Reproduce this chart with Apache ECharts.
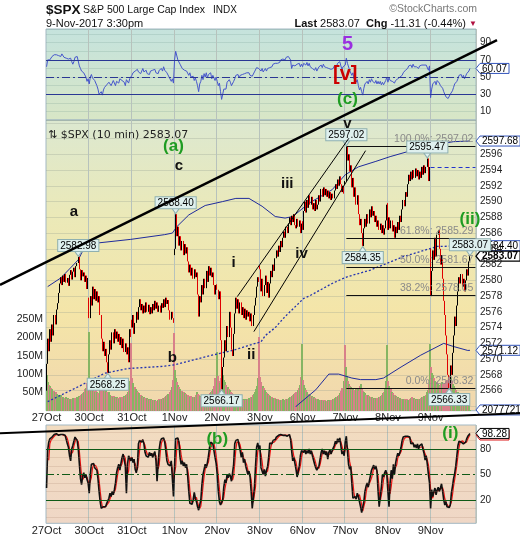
<!DOCTYPE html>
<html>
<head>
<meta charset="utf-8">
<script src="https://cdn.jsdelivr.net/npm/echarts@6/dist/echarts.min.js"></script>
<style>
  html, body { margin: 0; padding: 0; background: #ffffff; }
  #chart { width: 520px; height: 540px; }
</style>
</head>
<body>
<div id="chart"></div>
<script>
// ---- S&P 500, 10-minute bars, 27 Oct - 9 Nov 2017 ----
const dayLabels = ['27Oct', '30Oct', '31Oct', '1Nov', '2Nov', '3Nov', '6Nov', '7Nov', '8Nov', '9Nov'];
const barsPerDay = [39, 39, 39, 39, 39, 39, 39, 39, 39, 37];
const dayOpens = [2566.0, 2577.8, 2575.0, 2583.2, 2579.5, 2581.9, 2587.5, 2592.1, 2589.8, 2584.0];
const sessionDate = '9-Nov-2017 3:30pm';
const prevClose = 2594.38;

// closing price of every 10-minute bar, one row per session
const closes = [
  2569.4, 2572.6, 2571.0, 2573.8, 2572.2, 2574.4, 2573.0, 2575.6, 2574.4, 2576.3, 2577.1, 2578.4, 2579.6, 2580.4, 2579.4, 2580.6, 2579.8, 2580.8, 2579.7, 2580.3, 2579.3, 2580.7, 2581.3, 2580.1, 2581.1, 2581.6, 2580.4, 2581.8, 2582.2, 2582.98, 2581.4, 2580.0, 2581.3, 2580.5, 2581.0, 2579.8, 2580.6, 2578.9, 2580.3,
  2575.2, 2578.0, 2576.8, 2579.2, 2577.6, 2578.9, 2577.4, 2578.6, 2577.2, 2578.0, 2575.6, 2572.6, 2571.0, 2572.2, 2570.4, 2571.3, 2569.6, 2568.25, 2570.6, 2572.4, 2571.2, 2573.4, 2572.0, 2573.8, 2572.6, 2573.5, 2572.2, 2573.2, 2571.8, 2572.8, 2571.4, 2572.6, 2570.9, 2572.0, 2570.6, 2571.5, 2569.6, 2573.8, 2572.8,
  2574.0, 2575.6, 2573.2, 2574.6, 2576.0, 2575.0, 2576.6, 2577.6, 2576.2, 2577.0, 2575.8, 2576.8, 2575.9, 2577.2, 2576.0, 2576.9, 2575.7, 2576.6, 2575.8, 2577.0, 2576.2, 2577.4, 2576.4, 2577.2, 2576.0, 2576.8, 2575.9, 2577.1, 2576.5, 2577.6, 2576.6, 2577.8, 2577.0, 2577.5, 2576.2, 2575.0, 2576.0, 2575.2, 2574.6,
  2584.0, 2588.40, 2585.6, 2586.8, 2584.4, 2585.6, 2583.8, 2585.0, 2583.2, 2584.6, 2583.4, 2584.2, 2582.4, 2581.0, 2582.0, 2580.6, 2581.6, 2580.2, 2581.4, 2580.4, 2581.0, 2578.2, 2575.4, 2578.0, 2577.2, 2579.4, 2578.2, 2580.2, 2579.0, 2581.2, 2579.8, 2581.8, 2580.6, 2581.6, 2580.4, 2581.0, 2579.4, 2578.2, 2579.4,
  2578.8, 2577.6, 2578.6, 2572.4, 2566.17, 2569.0, 2570.2, 2572.4, 2571.0, 2574.2, 2572.8, 2576.0, 2574.0, 2571.2, 2570.4, 2573.2, 2575.8, 2577.8, 2576.4, 2577.6, 2575.8, 2577.2, 2575.6, 2576.6, 2575.2, 2576.4, 2575.0, 2576.2, 2575.4, 2576.0, 2574.8, 2575.8, 2574.2, 2575.6, 2576.8, 2577.8, 2579.2, 2580.4, 2579.8,
  2581.4, 2578.6, 2580.2, 2578.0, 2579.4, 2580.6, 2578.4, 2579.8, 2577.8, 2579.6, 2581.2, 2580.4, 2582.0, 2581.2, 2582.8, 2583.8, 2583.0, 2584.4, 2583.6, 2585.0, 2584.2, 2585.4, 2586.2, 2585.4, 2586.8, 2586.0, 2587.2, 2588.0, 2587.0, 2588.2, 2587.4, 2588.4, 2587.0, 2586.6, 2587.8, 2586.8, 2587.6, 2586.0, 2587.2,
  2586.4, 2588.8, 2590.0, 2588.6, 2590.2, 2589.2, 2590.8, 2589.6, 2590.6, 2589.0, 2589.8, 2588.8, 2590.2, 2589.0, 2589.6, 2590.8, 2590.0, 2591.6, 2590.6, 2591.8, 2590.8, 2591.6, 2590.6, 2591.4, 2590.4, 2591.2, 2590.2, 2591.0, 2590.4, 2591.4, 2592.2, 2591.6, 2592.8, 2592.0, 2593.2, 2592.2, 2591.2, 2592.0, 2591.0,
  2592.6, 2597.02, 2595.2, 2596.0, 2593.8, 2594.6, 2591.8, 2593.0, 2590.6, 2591.8, 2589.6, 2590.8, 2588.4, 2587.0, 2587.8, 2586.0, 2584.35, 2586.6, 2587.8, 2586.8, 2588.4, 2587.2, 2589.0, 2588.0, 2589.4, 2588.2, 2588.8, 2587.4, 2588.2, 2586.8, 2587.6, 2586.4, 2587.2, 2586.0, 2587.0, 2585.8, 2586.6, 2587.6, 2589.6,
  2586.4, 2588.0, 2586.6, 2587.6, 2586.2, 2587.0, 2585.4, 2586.8, 2586.0, 2587.4, 2586.4, 2588.2, 2587.4, 2589.0, 2590.2, 2589.4, 2591.2, 2590.6, 2592.2, 2593.4, 2592.6, 2593.8, 2592.8, 2594.0, 2593.0, 2594.2, 2593.2, 2594.0, 2592.8, 2593.8, 2593.0, 2594.4, 2593.4, 2594.6, 2593.6, 2594.4, 2595.47, 2592.6, 2594.38,
  2578.0, 2581.2, 2583.8, 2582.6, 2585.4, 2583.0, 2585.8, 2586.4, 2584.0, 2582.0, 2583.2, 2580.2, 2577.4, 2575.6, 2573.0, 2570.6, 2568.0, 2566.33, 2569.2, 2568.0, 2570.8, 2573.0, 2575.4, 2574.2, 2576.8, 2578.6, 2580.4, 2579.6, 2580.8, 2579.2, 2580.2, 2578.6, 2580.0, 2581.4, 2580.6, 2582.4, 2583.07
];

// volume per bar, millions of shares
const volumes = [
  97, 78, 70, 66, 62, 58, 55, 52, 50, 46, 44, 42, 40, 43, 38, 36, 35, 38, 33, 34, 31, 32, 30, 33, 35, 31, 34, 36, 38, 40, 37, 42, 45, 48, 52, 58, 62, 76, 215,
  88, 72, 66, 60, 55, 52, 58, 50, 48, 62, 70, 65, 58, 54, 60, 56, 50, 46, 52, 44, 40, 38, 41, 36, 35, 37, 34, 33, 36, 35, 38, 40, 37, 42, 45, 50, 56, 80, 184,
  90, 76, 64, 58, 54, 50, 47, 44, 42, 40, 38, 36, 35, 34, 32, 33, 30, 31, 29, 30, 28, 29, 27, 30, 31, 29, 32, 33, 35, 34, 37, 39, 42, 46, 50, 56, 64, 85, 211,
  112, 90, 78, 70, 64, 60, 55, 52, 50, 48, 46, 44, 42, 40, 38, 40, 37, 36, 38, 44, 50, 46, 42, 40, 38, 36, 38, 35, 37, 40, 42, 44, 47, 50, 54, 60, 68, 90, 161,
  95, 80, 75, 90, 105, 98, 85, 78, 70, 65, 60, 56, 52, 48, 45, 42, 40, 38, 36, 35, 34, 33, 32, 31, 30, 31, 30, 32, 33, 34, 36, 38, 42, 46, 52, 58, 66, 88, 202,
  92, 78, 68, 62, 56, 52, 48, 45, 42, 40, 38, 36, 35, 34, 33, 32, 31, 30, 30, 29, 30, 31, 30, 32, 31, 33, 34, 36, 38, 40, 42, 45, 48, 52, 56, 62, 70, 92, 182,
  85, 70, 62, 56, 50, 46, 44, 41, 40, 38, 36, 34, 33, 32, 31, 30, 29, 28, 28, 27, 28, 27, 26, 28, 27, 29, 30, 31, 33, 34, 36, 38, 41, 44, 48, 54, 62, 82, 179,
  118, 95, 80, 72, 68, 64, 60, 58, 56, 60, 62, 58, 55, 66, 72, 60, 54, 50, 47, 44, 42, 40, 38, 37, 36, 35, 34, 33, 34, 35, 36, 38, 40, 43, 47, 52, 60, 80, 179,
  80, 66, 58, 52, 48, 44, 42, 40, 38, 36, 35, 34, 33, 32, 31, 33, 30, 31, 29, 30, 32, 35, 37, 34, 32, 31, 30, 31, 32, 33, 35, 36, 38, 41, 44, 50, 56, 72, 182,
  120, 104, 96, 88, 82, 78, 74, 70, 66, 72, 78, 74, 70, 76, 80, 84, 90, 95, 88, 80, 72, 66, 60, 56, 52, 50, 48, 46, 44, 42, 43, 41, 40, 42, 44, 46, 2.077721
];

// RSI(14)
const rsi = [
  62, 70, 72, 70, 72, 74, 73, 76, 74, 76, 77, 75, 76, 74, 77, 75, 73, 74, 72, 70, 71, 69, 72, 68, 65, 68, 73, 71, 74, 72, 63, 60, 57, 58, 55, 56, 50, 45, 48,
  42, 50, 53, 49, 50, 46, 44, 40, 36, 30, 28, 33, 29, 35, 38, 36, 41, 39, 44, 42, 40, 43, 46, 44, 40, 45, 47, 43, 48, 50, 46, 48, 44, 40, 47, 45, 43, 48, 50,
  52, 55, 53, 57, 55, 59, 56, 58, 54, 57, 60, 56, 55, 58, 54, 56, 53, 57, 55, 58, 56, 59, 55, 57, 54, 58, 56, 60, 57, 62, 58, 60, 55, 53, 50, 48, 45, 48, 43,
  70, 80, 78, 70, 72, 65, 63, 60, 62, 58, 60, 57, 56, 52, 55, 50, 48, 51, 46, 49, 45, 40, 33, 42, 45, 52, 47, 54, 50, 55, 49, 53, 51, 55, 48, 52, 49, 46, 50,
  45, 40, 43, 33, 24, 30, 36, 38, 36, 44, 42, 47, 44, 40, 38, 45, 48, 52, 50, 53, 49, 52, 50, 53, 51, 54, 52, 55, 53, 55, 52, 54, 51, 53, 56, 58, 61, 63, 60,
  62, 57, 60, 56, 58, 60, 57, 60, 58, 61, 63, 62, 65, 63, 66, 68, 66, 68, 67, 70, 68, 71, 72, 70, 73, 71, 74, 75, 70, 60, 64, 66, 63, 61, 65, 63, 66, 62, 65,
  62, 66, 68, 64, 67, 63, 66, 62, 64, 60, 62, 58, 61, 57, 59, 62, 60, 64, 61, 65, 62, 64, 61, 63, 60, 62, 59, 61, 60, 63, 65, 62, 66, 64, 68, 63, 59, 62, 60,
  64, 72, 66, 67, 58, 60, 52, 55, 48, 51, 44, 47, 40, 35, 38, 33, 29, 37, 42, 40, 45, 42, 47, 44, 48, 45, 47, 43, 46, 42, 45, 42, 45, 41, 44, 41, 43, 46, 50,
  44, 49, 46, 48, 45, 47, 43, 46, 45, 48, 46, 50, 48, 52, 55, 53, 58, 56, 60, 63, 61, 64, 61, 65, 62, 64, 62, 63, 60, 63, 61, 64, 62, 64, 62, 64, 66, 58, 63,
  26, 36, 42, 40, 45, 41, 46, 47, 43, 40, 42, 37, 33, 30, 27, 26, 25, 24, 30, 28, 34, 38, 42, 40, 45, 48, 52, 50, 53, 49, 52, 48, 51, 54, 52, 57, 60.07
];

// Slow stochastic %K
const stochK = [
  34, 78, 88, 92, 90, 94, 96, 97, 96, 98, 97, 96, 98, 97, 96, 97, 95, 96, 94, 86, 82, 72, 66, 80, 84, 86, 94, 96, 90, 80, 62, 45, 38, 48, 52, 46, 50, 44, 40,
  28, 50, 62, 60, 63, 58, 60, 55, 45, 30, 18, 10, 8, 12, 14, 12, 16, 14, 22, 28, 24, 30, 26, 32, 40, 52, 58, 62, 55, 63, 70, 74, 72, 60, 28, 62, 72, 74, 66,
  70, 64, 68, 56, 52, 58, 86, 90, 92, 88, 91, 86, 76, 72, 74, 70, 76, 72, 75, 70, 74, 77, 66, 42, 62, 80, 89, 92, 90, 93, 88, 78, 66, 62, 64, 60, 66, 45, 24,
  60, 92, 90, 93, 88, 70, 62, 66, 60, 64, 58, 62, 48, 30, 16, 18, 15, 20, 29, 22, 18, 12, 8, 10, 20, 38, 50, 56, 62, 58, 64, 72, 82, 88, 90, 86, 84, 70, 63,
  50, 30, 18, 14, 13, 20, 35, 44, 40, 50, 46, 51, 48, 42, 40, 62, 86, 90, 88, 91, 84, 78, 70, 76, 64, 68, 60, 55, 50, 54, 47, 30, 10, 12, 35, 60, 82, 87, 80,
  84, 58, 54, 50, 56, 48, 55, 59, 70, 87, 89, 86, 90, 88, 91, 94, 93, 96, 95, 97, 95, 96, 97, 96, 97, 95, 96, 97, 92, 78, 66, 70, 68, 56, 47, 48, 60, 72, 78,
  80, 76, 79, 74, 78, 75, 80, 74, 78, 72, 70, 62, 58, 55, 57, 60, 68, 76, 80, 74, 78, 73, 77, 68, 76, 79, 74, 78, 80, 84, 89, 86, 92, 88, 93, 84, 74, 77, 72,
  88, 95, 78, 62, 56, 60, 40, 22, 20, 24, 21, 28, 24, 26, 12, 5, 4, 18, 30, 36, 40, 35, 42, 40, 55, 58, 61, 56, 60, 54, 30, 12, 14, 35, 50, 47, 52, 55, 50,
  30, 12, 40, 55, 45, 62, 50, 63, 70, 75, 72, 76, 82, 90, 94, 93, 95, 94, 95, 93, 94, 86, 84, 87, 82, 85, 81, 86, 80, 84, 82, 86, 80, 75, 67, 72, 62, 50, 40,
  10, 32, 24, 30, 34, 26, 32, 35, 30, 34, 39, 30, 20, 14, 18, 12, 10, 11, 14, 28, 36, 45, 51, 60, 72, 84, 89, 91, 88, 90, 86, 85, 88, 92, 95, 96, 98.28
];

// Bollinger bands, read at [bar, price]
const bbUpper = [[1, 2579.2], [13, 2580.3], [29, 2582.6], [35, 2584.3], [44, 2584.7], [77, 2585.2], [108, 2585.8], [115, 2586.0], [119, 2586.8], [130, 2588.3], [145, 2589.5], [161, 2590.0], [173, 2590.4], [185, 2590.4], [197, 2589.4], [209, 2588.1], [218, 2587.9], [225, 2588.1], [240, 2589.8], [261, 2591.5], [273, 2593.4], [285, 2594.4], [301, 2595.1], [314, 2595.7], [348, 2597.05], [372, 2597.6], [387, 2597.68]];
const bbMiddle = [[1, 2564.6], [29, 2566.5], [53, 2568.2], [74, 2568.8], [108, 2569.1], [118, 2569.3], [145, 2570.3], [170, 2571.1], [191, 2572.0], [196, 2572.2], [200, 2573.0], [209, 2574.0], [218, 2575.4], [235, 2577.7], [240, 2578.0], [261, 2579.6], [272, 2580.3], [276, 2580.5], [296, 2581.3], [326, 2583.0], [357, 2584.3], [387, 2584.40]];
const bbLower = [[226, 2563.3], [228, 2564.0], [246, 2566.1], [258, 2568.1], [267, 2568.1], [279, 2567.6], [287, 2567.4], [301, 2567.4], [308, 2567.6], [324, 2569.0], [342, 2570.5], [363, 2572.0], [372, 2571.6], [385, 2571.1], [387, 2571.12]];

// Fibonacci retracement of the 7 Nov high to the 9 Nov low
const fibLevels = [100, 61.8, 50, 38.2, 0];
const fibPrices = [2597.02, 2585.29, 2581.67, 2578.05, 2566.32];
const fibStartBar = 274;

// bars carrying a price callout
const highCallouts = [29, 118, 274, 348, 387];
const lowCallouts = [56, 160, 289, 368];

// Elliott wave annotations
const waveNotes = [
  { text: 'a', pane: 'price', bar: 25, value: 2588.7, kind: 'minor' },
  { text: '(a)', pane: 'price', bar: 116, value: 2597.0, kind: 'green' },
  { text: 'c', pane: 'price', bar: 121, value: 2594.5, kind: 'minor' },
  { text: 'b', pane: 'price', bar: 115, value: 2570.2, kind: 'minor' },
  { text: 'i', pane: 'price', bar: 171, value: 2582.2, kind: 'minor' },
  { text: 'ii', pane: 'price', bar: 187, value: 2570.5, kind: 'minor' },
  { text: 'iii', pane: 'price', bar: 220, value: 2592.3, kind: 'minor' },
  { text: 'iv', pane: 'price', bar: 233, value: 2583.4, kind: 'minor' },
  { text: 'v', pane: 'price', bar: 275, value: 2599.9, kind: 'minor' },
  { text: '(ii)', pane: 'price', bar: 387, value: 2587.8, kind: 'green' },
  { text: '5', pane: 'rsi', bar: 275, value: 88, kind: 'purple' },
  { text: '[v]', pane: 'rsi', bar: 273, value: 53, kind: 'red' },
  { text: '(c)', pane: 'rsi', bar: 275, value: 23.6, kind: 'green' },
  { text: '(b)', pane: 'stoch', bar: 156, value: 91.4, kind: 'green' },
  { text: '(i)', pane: 'stoch', bar: 369, value: 98.5, kind: 'green' }
];

// drawn trend lines: two anchors each, in [bar, value] of a pane
const trendLines = [
  { pane: 'price', a: [0, 2582.32], b: [387, 2608.79], extend: [0, 497], width: 2.5 },
  { pane: 'stoch', a: [0, 100.6], b: [387, 119.8], extend: [0, 520], width: 2 },
  { pane: 'price', a: [174.3, 2577.93], b: [276.3, 2598.03], width: 1 },
  { pane: 'price', a: [189.5, 2573.49], b: [291.6, 2596.46], width: 1 }
];

// ---- derived tables ----
const categories = [];
const dayStart = new Set();
const openOfBar = [];
dayLabels.forEach((d, k) => {
  dayStart.add(categories.length);
  for (let i = 0; i < barsPerDay[k]; i++) {
    const m = 570 + 10 * i;
    const idx = categories.length;
    openOfBar.push(i === 0 ? dayOpens[k] : closes[idx - 1]);
    categories.push(d + ' ' + Math.floor(m / 60) + ':' + String(m % 60).padStart(2, '0'));
  }
});
const nBars = categories.length;
const lastSlot = nBars + 4;
for (let i = nBars; i <= lastSlot; i++) categories.push('');

const candles = closes.map((c, i) => {
  const o = openOfBar[i];
  return [o, c, Math.min(o, c), Math.max(o, c)];
});
const volumeRows = volumes.map((v, i) => [i, v, candles[i][1] >= candles[i][0] ? 1 : 0]);
const stochD = stochK.map((v, i) => i < 2 ? null : +((stochK[i] + stochK[i - 1] + stochK[i - 2]) / 3).toFixed(2));

const FONT = '"Liberation Sans", Arial, sans-serif';
const paneAxis = { rsi: 0, price: 2, stoch: 3 };
const VOL_UP = '#86b563', VOL_DOWN = '#d8808a';

function xAxisFor(gridIndex, showLabels) {
  return {
    type: 'category', gridIndex, data: categories, boundaryGap: true,
    axisLine: { show: false }, axisTick: { show: false },
    axisLabel: {
      show: showLabels, interval: (i) => dayStart.has(i), hideOverlap: false,
      formatter: (v) => v.split(' ')[0], color: '#222', fontSize: 11, margin: 2, fontFamily: FONT
    },
    splitLine: { show: gridIndex !== 2, interval: (i) => dayStart.has(i) && i > 0, lineStyle: { color: '#b7c2bc', width: 1 } }
  };
}
const lg = (stops) => new echarts.graphic.LinearGradient(0, 0, 0, 1, stops.map((c, i) => ({ offset: i / (stops.length - 1), color: c })));

const chart = echarts.init(document.getElementById('chart'), null, { renderer: 'canvas' });

const option = {
  animation: false,
  textStyle: { fontFamily: FONT },
  grid: [
    { left: 46, right: 44, top: 29, height: 91, show: true, z: 0, backgroundColor: lg(['#c5e3dd', '#d8e6c6']), borderColor: '#a3b8c2', borderWidth: 1, outerBoundsMode: 'none' },
    { left: 46, right: 44, top: 120, height: 290.7, show: true, z: 0, backgroundColor: lg(['#dce8d0', '#ebe9b8', '#f4e5a8', '#f1d7ae']), borderColor: '#a3b8c2', borderWidth: 1, outerBoundsMode: 'none' },
    { left: 46, right: 44, top: 120, height: 286.4, show: false, outerBoundsMode: 'none' },
    { left: 46, right: 44, top: 425, height: 98.3, show: true, z: 0, backgroundColor: lg(['#f2dcc0', '#efd7c6']), borderColor: '#a3b8c2', borderWidth: 1, outerBoundsMode: 'none' }
  ],
  xAxis: [xAxisFor(0, false), xAxisFor(1, true), Object.assign(xAxisFor(2, false), { show: false }), xAxisFor(3, true)],
  yAxis: [
    { type: 'value', gridIndex: 0, position: 'right', min: 0, max: 106, interval: 10,
      axisLine: { show: false }, axisTick: { show: false },
      axisLabel: { formatter: (v) => (v % 20 === 10 ? String(v) : ''), color: '#222', fontSize: 10, margin: 4 },
      splitLine: { lineStyle: { color: 'rgba(110,150,140,0.22)' } } },
    { type: 'value', gridIndex: 1, position: 'left', min: 0, max: 792.5, interval: 50,
      axisLine: { show: false }, axisTick: { show: false },
      axisLabel: { formatter: (v) => (v >= 50 && v <= 250 ? v + 'M' : ''), color: '#222', fontSize: 10.5, margin: 3 },
      splitLine: { show: false } },
    { type: 'value', gridIndex: 2, position: 'right', min: 2564, max: 2600.35, interval: 2,
      axisLine: { show: false }, axisTick: { show: false },
      axisLabel: { formatter: (v) => (v >= 2566 && v <= 2596 ? String(v) : ''), color: '#222', fontSize: 10, margin: 4 },
      splitLine: { lineStyle: { color: 'rgba(140,150,140,0.28)' } } },
    { type: 'value', gridIndex: 3, position: 'right', min: -7.5, max: 108.2,
      axisLine: { show: false }, axisTick: { show: false }, axisLabel: { show: false }, splitLine: { show: false } }
  ],
  series: [
    {
      type: 'line', name: 'RSI(14)', xAxisIndex: 0, yAxisIndex: 0, data: rsi, symbol: 'none', z: 3,
      lineStyle: { color: '#4656cc', width: 1 },
      markLine: {
        silent: true, symbol: ['none', 'none'], label: { show: false },
        lineStyle: { color: '#2a3794', width: 1, type: 'solid' },
        data: [{ yAxis: 70 }, { yAxis: 50, lineStyle: { type: [8, 3, 2, 3] } }, { yAxis: 30 }]
      }
    },
    {
      // volume columns: one pixel-snapped rect per bar, coloured by the bar's direction
      type: 'custom', name: 'Volume', xAxisIndex: 1, yAxisIndex: 1, data: volumeRows, z: 2, silent: true,
      encode: { x: 0, y: 1 },
      renderItem: (params, api) => {
        const top = api.coord([api.value(0), api.value(1)]);
        const base = api.coord([api.value(0), 0]);
        const band = api.size([1, 0])[0];
        const x = Math.round(top[0] - band / 2);
        return {
          type: 'rect',
          shape: { x, y: Math.round(top[1]), width: Math.max(1, Math.round(band)) + 1, height: Math.round(base[1]) - Math.round(top[1]) },
          style: { fill: api.value(2) ? VOL_UP : VOL_DOWN }
        };
      }
    },
    {
      type: 'line', name: 'BB upper', xAxisIndex: 2, yAxisIndex: 2, data: bbUpper, symbol: 'none',
      lineStyle: { color: '#1f2b9c', width: 1 }, z: 3
    },
    {
      type: 'line', name: 'BB middle', xAxisIndex: 2, yAxisIndex: 2, data: bbMiddle, symbol: 'none',
      lineStyle: { color: '#2434b0', width: 1.3, type: [2, 2] }, z: 3
    },
    {
      type: 'line', name: 'BB lower', xAxisIndex: 2, yAxisIndex: 2, data: bbLower, symbol: 'none',
      lineStyle: { color: '#1f2b9c', width: 1 }, z: 3
    },
    {
      type: 'candlestick', name: '$SPX', xAxisIndex: 2, yAxisIndex: 2, data: candles, barWidth: 1, z: 4,
      itemStyle: { color: '#000', color0: '#e00000', borderColor: '#000', borderColor0: '#e00000', borderWidth: 1 },
      markLine: {
        silent: true, symbol: ['none', 'none'],
        data: fibLevels.map((lv, k) => [
          { coord: [fibStartBar, fibPrices[k]], lineStyle: { color: '#111', width: 1, type: 'solid' },
            label: { show: true, position: 'insideEndTop', distance: 2, formatter: lv.toFixed(1) + '%: ' + fibPrices[k].toFixed(2), color: '#8a8a8a', fontSize: 10.5 } },
          { coord: [lastSlot, fibPrices[k]] }
        ]).concat([[
          { coord: [nBars - 37, prevClose], lineStyle: { color: '#2233cc', width: 1, type: [4, 3] }, label: { show: false } },
          { coord: [lastSlot, prevClose] }
        ]])
      },
      markPoint: {
        silent: true,
        itemStyle: { color: '#dff0ee', borderColor: '#8fb0b0', borderWidth: 1 },
        label: { show: true, formatter: '{c}', backgroundColor: '#dff0ee', borderColor: '#8fb0b0', borderWidth: 1,
                 padding: [1, 2, 0, 2], fontSize: 10, lineHeight: 10, color: '#000' },
        data: highCallouts.map((i) => ({
          coord: [i, closes[i]], value: closes[i].toFixed(2), symbol: 'triangle', symbolRotate: 180,
          symbolSize: [7, 5], symbolOffset: [0, -3], label: { position: 'top', distance: 0 }
        })).concat(lowCallouts.map((i) => ({
          coord: [i, closes[i]], value: closes[i].toFixed(2), symbol: 'triangle',
          symbolSize: [7, 5], symbolOffset: [0, 3], label: { position: 'bottom', distance: 0 }
        })))
      }
    },
    {
      type: 'line', name: '%D', xAxisIndex: 3, yAxisIndex: 3, data: stochD, symbol: 'none', z: 3,
      lineStyle: { color: '#ee1111', width: 1.2 }
    },
    {
      type: 'line', name: '%K', xAxisIndex: 3, yAxisIndex: 3, data: stochK, symbol: 'none', z: 4,
      lineStyle: { color: '#111', width: 1.6 },
      markLine: {
        silent: true, symbol: ['none', 'none'],
        data: [0, 10, 30, 40, 60, 70, 90, 100].map((v) => ({ yAxis: v, lineStyle: { color: 'rgba(170,130,110,0.22)', width: 1, type: 'solid' }, label: { show: false } }))
          .concat([80, 50, 20].map((v) => ({
            yAxis: v,
            lineStyle: { color: '#0f5a17', width: 1, type: v === 50 ? [8, 3, 2, 3] : 'solid' },
            label: { show: true, position: 'end', formatter: String(v), color: '#222', fontSize: 10, distance: 4 }
          })))
      }
    }
  ]
};
chart.setOption(option);

// ---- annotations placed through the axes ----
const measureCtx = document.createElement('canvas').getContext('2d');
function textWidth(t, size, bold) {
  measureCtx.font = (bold ? 'bold ' : '') + size + 'px ' + FONT;
  return measureCtx.measureText(t).width;
}
const x0px = chart.convertToPixel({ xAxisIndex: 2 }, categories[0]);
const x1px = chart.convertToPixel({ xAxisIndex: 2 }, categories[nBars - 1]);
const xAt = (bar) => x0px + (x1px - x0px) * bar / (nBars - 1);
const yAt = (pane, v) => chart.convertToPixel({ yAxisIndex: paneAxis[pane] }, v);
const gridRight = chart.getWidth() - 44;

const graphics = [];

// header
graphics.push(
  { type: 'text', x: 46, y: 10, style: { text: '$SPX', fontSize: 13.5, fontWeight: 'bold', fontFamily: FONT, fill: '#111', verticalAlign: 'middle' } },
  { type: 'text', x: 83, y: 10.5, style: { text: 'S&P 500 Large Cap Index', fontSize: 10.5, fontFamily: FONT, fill: '#111', verticalAlign: 'middle' } },
  { type: 'text', x: 213, y: 10.5, style: { text: 'INDX', fontSize: 10, fontFamily: FONT, fill: '#111', verticalAlign: 'middle' } },
  { type: 'text', x: 46, y: 23.5, style: { text: sessionDate, fontSize: 11, fontFamily: FONT, fill: '#111', verticalAlign: 'middle' } },
  { type: 'text', x: 477, y: 9.5, style: { text: '\u00a9StockCharts.com', fontSize: 10.5, fontFamily: FONT, fill: '#777', align: 'right', verticalAlign: 'middle' } }
);
const last = closes[nBars - 1];
const chg = last - prevClose;
graphics.push({
  type: 'text', x: 477, y: 23.5,
  style: {
    text: '{b|Last} ' + last.toFixed(2) + '  {b|Chg} ' + chg.toFixed(2) + ' (' + (chg / prevClose * 100).toFixed(2) + '%) {r|\u25BC}',
    fontSize: 11, fontFamily: FONT, fill: '#111', align: 'right', verticalAlign: 'middle',
    rich: { b: { fontWeight: 'bold', fontSize: 11, fontFamily: FONT }, r: { fill: '#b01040', fontSize: 8 } }
  }
});
graphics.push({
  type: 'text', x: 48, y: 135,
  style: { text: '\u21C5 $SPX (10 min) ' + last.toFixed(2), fontSize: 11, fontFamily: '"DejaVu Sans", sans-serif', fill: '#222', verticalAlign: 'middle' }, z: 50
});

// trend lines
trendLines.forEach((ln) => {
  let p1 = [xAt(ln.a[0]), yAt(ln.pane, ln.a[1])];
  let p2 = [xAt(ln.b[0]), yAt(ln.pane, ln.b[1])];
  if (ln.extend) {
    const s = (p2[1] - p1[1]) / (p2[0] - p1[0]);
    const yOf = (x) => p1[1] + (x - p1[0]) * s;
    p1 = [ln.extend[0], yOf(ln.extend[0])];
    p2 = [ln.extend[1], yOf(ln.extend[1])];
  }
  graphics.push({ type: 'line', shape: { x1: p1[0], y1: p1[1], x2: p2[0], y2: p2[1] }, style: { stroke: '#000', lineWidth: ln.width }, z: 40, silent: true });
});

// wave labels
const waveStyle = {
  minor: { fill: '#111', size: 15 },
  green: { fill: '#1f9c22', size: 17 },
  purple: { fill: '#9a2fe0', size: 20 },
  red: { fill: '#cc0000', size: 20 }
};
waveNotes.forEach((w) => {
  const st = waveStyle[w.kind];
  graphics.push({
    type: 'text', x: xAt(w.bar), y: yAt(w.pane, w.value), z: 45,
    style: { text: w.text, fill: st.fill, fontSize: st.size, fontWeight: 'bold', fontFamily: FONT, align: 'center', verticalAlign: 'middle' }
  });
});

// value tags on the right edge
function tag(y, text, border, bold) {
  const w = textWidth(text, 10, bold);
  const x = gridRight, h = 5, p = 4;
  graphics.push({
    type: 'group', z: 60, children: [
      { type: 'polygon', shape: { points: [[x, y], [x + p, y - h], [x + p + w + 4, y - h], [x + p + w + 4, y + h], [x + p, y + h]] },
        style: { fill: '#ffffff', stroke: border, lineWidth: bold ? 1.3 : 1 } },
      { type: 'text', x: x + p + 2, y: y + 0.5, style: { text, fontSize: 10, fontWeight: bold ? 'bold' : 'normal', fontFamily: FONT, fill: '#000', verticalAlign: 'middle' } }
    ]
  });
}
const lastOf = (arr) => arr[arr.length - 1];
tag(yAt('price', lastOf(bbUpper)[1]), lastOf(bbUpper)[1].toFixed(2), '#3355bb', false);
tag(yAt('price', lastOf(bbMiddle)[1]), lastOf(bbMiddle)[1].toFixed(2), '#3355bb', false);
tag(yAt('price', lastOf(bbLower)[1]), lastOf(bbLower)[1].toFixed(2), '#3355bb', false);
tag(yAt('price', last), last.toFixed(2), '#000', true);
tag(chart.convertToPixel({ yAxisIndex: 1 }, lastOf(volumes)), String(Math.round(lastOf(volumes) * 1e6)), '#3355bb', false);
tag(yAt('rsi', lastOf(rsi)), lastOf(rsi).toFixed(2), '#3355bb', false);
tag(yAt('stoch', lastOf(stochD)), lastOf(stochD).toFixed(2), '#dd1111', false);
tag(yAt('stoch', lastOf(stochK)), lastOf(stochK).toFixed(2), '#000', false);

chart.setOption({ graphic: graphics });
</script>
</body>
</html>
